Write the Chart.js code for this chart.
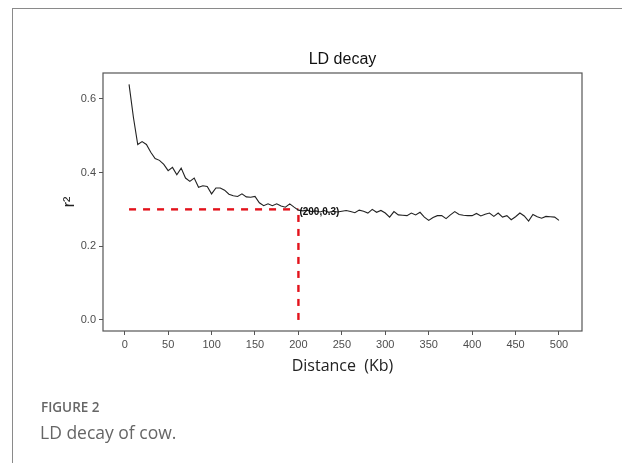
<!DOCTYPE html>
<html>
<head>
<meta charset="utf-8">
<script src="https://cdn.jsdelivr.net/npm/chart.js@4/dist/chart.umd.min.js"></script>
<style>
  html, body { margin: 0; padding: 0; background: #fff; }
  body { width: 622px; height: 463px; position: relative; overflow: hidden; }
  .frame { position: absolute; left: 12px; top: 8px; width: 700px; height: 600px;
           border-top: 1.5px solid #8a8a8a; border-left: 1.5px solid #8a8a8a; }
  #chart { position: absolute; left: 0; top: 0; }
  .cap-label { position: absolute; left: 41px; top: 398px; font: 600 13.5px "Open Sans", sans-serif; color: #666; }
  .cap-text { position: absolute; left: 40px; top: 420px; font: 17.5px "Open Sans", sans-serif; color: #666; }
</style>
</head>
<body>
<div class="frame"></div>
<canvas id="chart" width="622" height="463"></canvas>
<div class="cap-label">FIGURE 2</div>
<div class="cap-text">LD decay of cow.</div>

<script>
// LD decay data (distance in Kb, mean r^2)
const distances = [
    5, 10, 15, 20, 25, 30, 35, 40, 45, 50,
    55, 60, 65, 70, 75, 80, 85, 90, 95, 100,
    105, 110, 115, 120, 125, 130, 135, 140, 145, 150,
    155, 160, 165, 170, 175, 180, 185, 190, 195, 200,
    205, 210, 215, 220, 225, 230, 235, 240, 245, 250,
    255, 260, 265, 270, 275, 280, 285, 290, 295, 300,
    305, 310, 315, 320, 325, 330, 335, 340, 345, 350,
    355, 360, 365, 370, 375, 380, 385, 390, 395, 400,
    405, 410, 415, 420, 425, 430, 435, 440, 445, 450,
    455, 460, 465, 470, 475, 480, 485, 490, 495, 500
];
const r2Values = [
    0.639, 0.550, 0.476, 0.484, 0.476, 0.455, 0.438, 0.433, 0.422, 0.405,
    0.414, 0.394, 0.412, 0.385, 0.376, 0.385, 0.360, 0.364, 0.362, 0.342,
    0.358, 0.358, 0.352, 0.341, 0.337, 0.335, 0.342, 0.334, 0.333, 0.335,
    0.318, 0.310, 0.315, 0.310, 0.315, 0.309, 0.306, 0.315, 0.306, 0.298,
    0.296, 0.298, 0.294, 0.296, 0.293, 0.297, 0.292, 0.295, 0.293, 0.295,
    0.297, 0.294, 0.291, 0.298, 0.295, 0.290, 0.300, 0.292, 0.297, 0.290,
    0.279, 0.294, 0.285, 0.284, 0.283, 0.290, 0.285, 0.292, 0.279, 0.270,
    0.278, 0.283, 0.283, 0.275, 0.285, 0.294, 0.286, 0.284, 0.283, 0.283,
    0.289, 0.282, 0.287, 0.290, 0.281, 0.290, 0.279, 0.283, 0.272, 0.280,
    0.290, 0.282, 0.268, 0.286, 0.280, 0.276, 0.281, 0.280, 0.279, 0.270
];

// Half-decay marker
const markX = 200;
const markY = 0.3;
const markLabel = '(200,0.3)';

const xTicks = [0, 50, 100, 150, 200, 250, 300, 350, 400, 450, 500];
const yTicks = [0.0, 0.2, 0.4, 0.6];

const FONT = "'Liberation Sans', Arial, sans-serif";

const curve = distances.map((d, i) => ({ x: d, y: r2Values[i] }));

// panel border, centred title and annotation text
const panelPlugin = {
    id: 'panel',
    afterDatasetsDraw(chart) {
        const { ctx, chartArea, scales } = chart;
        ctx.save();
        ctx.strokeStyle = '#555';
        ctx.lineWidth = 1.2;
        ctx.strokeRect(chartArea.left, chartArea.top,
            chartArea.right - chartArea.left, chartArea.bottom - chartArea.top);

        // title is centred over the panel, not the whole canvas
        ctx.fillStyle = '#111';
        ctx.font = '16px ' + FONT;
        ctx.textAlign = 'center';
        ctx.textBaseline = 'middle';
        ctx.fillText('LD decay', (chartArea.left + chartArea.right) / 2, chartArea.top - 13);

        ctx.font = 'bold 10px ' + FONT;
        ctx.textAlign = 'left';
        ctx.fillText(markLabel, scales.x.getPixelForValue(markX) + 1,
            scales.y.getPixelForValue(markY) + 3);
        ctx.restore();
    }
};

new Chart(document.getElementById('chart'), {
    type: 'line',
    data: {
        datasets: [
            {
                data: curve,
                borderColor: '#222',
                borderWidth: 1.1,
                pointRadius: 0,
                tension: 0
            },
            {
                data: [{ x: distances[0], y: markY }, { x: markX, y: markY }],
                borderColor: '#e3121b',
                borderWidth: 2.4,
                borderDash: [7, 7],
                pointRadius: 0
            },
            {
                data: [{ x: markX, y: 0 }, { x: markX, y: markY }],
                borderColor: '#e3121b',
                borderWidth: 2.4,
                borderDash: [7, 7],
                pointRadius: 0
            }
        ]
    },
    options: {
        responsive: false,
        animation: false,
        layout: { padding: { left: 0, right: 40, top: 73, bottom: 87 } },
        plugins: {
            legend: { display: false },
            tooltip: { enabled: false },
            title: { display: false }
        },
        scales: {
            x: {
                type: 'linear',
                min: -25,
                max: 526.5,
                afterFit: s => { s.height = 45; },
                afterBuildTicks: s => { s.ticks = xTicks.map(v => ({ value: v })); },
                grid: { drawOnChartArea: false, drawTicks: true, tickLength: 4, color: '#555' },
                border: { display: false },
                ticks: { color: '#4d4d4d', padding: 3, font: { family: FONT, size: 11 } },
                title: {
                    display: true,
                    text: 'Distance  (Kb)',
                    color: '#222',
                    font: { family: "'Open Sans', " + FONT, size: 16 },
                    padding: { top: 0, bottom: 0 }
                }
            },
            y: {
                type: 'linear',
                min: -0.03,
                max: 0.67,
                afterFit: s => { s.width = 103; },
                afterBuildTicks: s => { s.ticks = yTicks.map(v => ({ value: v })); },
                grid: { drawOnChartArea: false, drawTicks: true, tickLength: 4, color: '#555' },
                border: { display: false },
                ticks: {
                    color: '#4d4d4d', padding: 3, font: { family: FONT, size: 11 },
                    callback: v => v.toFixed(1)
                },
                title: {
                    display: true,
                    text: 'r²',
                    color: '#222',
                    font: { family: FONT, size: 16 },
                    padding: { top: 60, bottom: 0 }
                }
            }
        }
    },
    plugins: [panelPlugin]
});
</script>
</body>
</html>
